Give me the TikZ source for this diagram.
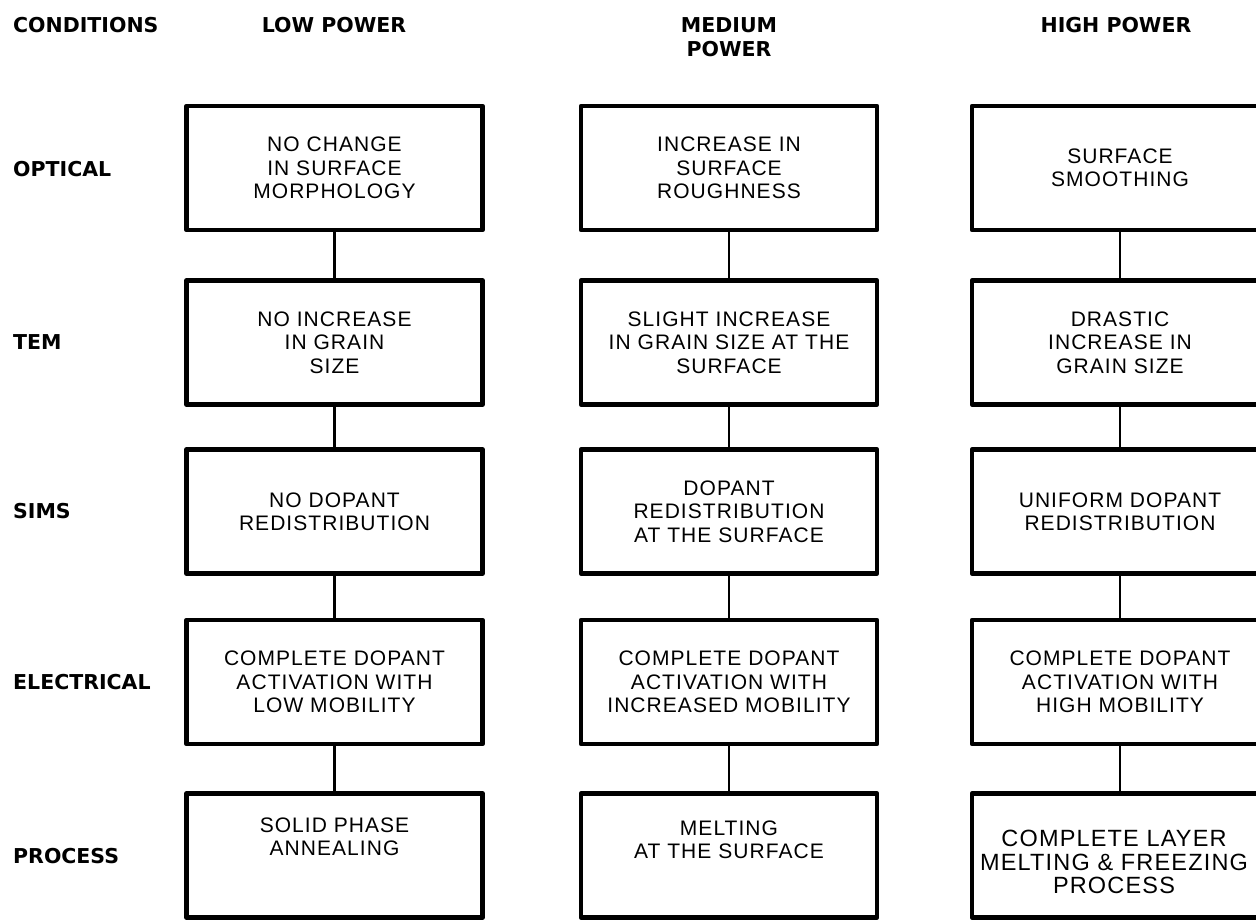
\documentclass[tikz,border=0pt]{standalone}
\usepackage{fontspec}
\setmainfont{Liberation Sans}[LetterSpace=5]
\newfontfamily\hdfont{DejaVu Sans}
\newcommand{\boxfnt}{\fontsize{21}{23.3}\selectfont}
\newcommand{\bigboxfnt}{\fontsize{23.5}{23.6}\selectfont}
\newcommand{\hdfnt}{\hdfont\bfseries\fontsize{20.5}{24}\selectfont}
\begin{document}
\begin{tikzpicture}[x=1pt,y=-1pt,
  box/.style={draw, line width=4.5pt, line join=round, minimum width=296pt, minimum height=124pt, inner sep=0pt, align=center, font=\boxfnt},
  txt/.style={inner sep=0pt, align=center, font=\boxfnt},
  conn/.style={line width=2.6pt},
  hd/.style={inner sep=0pt, align=center, font=\hdfnt},
  rowlab/.style={inner sep=0pt, anchor=west, font=\hdfnt}]
\useasboundingbox (0,0) rectangle (1256,919);

% headers
\node[hd, anchor=base west] (hcond) at (13,32) {CONDITIONS};
\node[hd, anchor=base] (hlow) at (334,32) {LOW POWER};
\node[hd, anchor=north] (hmed) at (729,17) {MEDIUM\\POWER};
\node[hd, anchor=base] (hhigh) at (1116,32) {HIGH POWER};

% row labels
\node[rowlab] (lopt) at (13,169) {OPTICAL};
\node[rowlab] (ltem) at (13,342) {TEM};
\node[rowlab] (lsims) at (13,511) {SIMS};
\node[rowlab] (lelec) at (13,682) {ELECTRICAL};
\node[rowlab] (lproc) at (13,856) {PROCESS};

% low power column
\node[box] (L1) at (334.5,168) {NO CHANGE\\IN SURFACE\\MORPHOLOGY};
\node[box] (L2) at (334.5,342.5) {NO INCREASE\\IN GRAIN\\SIZE};
\node[box] (L3) at (334.5,511.5) {NO DOPANT\\REDISTRIBUTION};
\node[box] (L4) at (334.5,682) {COMPLETE DOPANT\\ACTIVATION WITH\\LOW MOBILITY};
\node[box] (L5) at (334.5,855.5) {};
\node[txt] (L5t) at (334.5,837) {SOLID PHASE\\ANNEALING};

% medium power column
\node[box] (M1) at (729,168) {INCREASE IN\\SURFACE\\ROUGHNESS};
\node[box] (M2) at (729,342.5) {SLIGHT INCREASE\\IN GRAIN SIZE AT THE\\SURFACE};
\node[box] (M3) at (729,511.5) {DOPANT\\REDISTRIBUTION\\AT THE SURFACE};
\node[box] (M4) at (729,682) {COMPLETE DOPANT\\ACTIVATION WITH\\INCREASED MOBILITY};
\node[box] (M5) at (729,855.5) {};
\node[txt] (M5t) at (729,840) {MELTING\\AT THE SURFACE};

% high power column
\node[box] (R1) at (1120,168) {SURFACE\\SMOOTHING};
\node[box] (R2) at (1120,342.5) {DRASTIC\\INCREASE IN\\GRAIN SIZE};
\node[box] (R3) at (1120,511.5) {UNIFORM DOPANT\\REDISTRIBUTION};
\node[box] (R4) at (1120,682) {COMPLETE DOPANT\\ACTIVATION WITH\\HIGH MOBILITY};
\node[box] (R5) at (1120,855.5) {};
\node[txt, font=\bigboxfnt] (R5t) at (1114,862) {COMPLETE LAYER\\MELTING \& FREEZING\\PROCESS};

% connectors
\foreach \c in {L,M,R}{
  \draw[conn] (\c1) -- (\c2);
  \draw[conn] (\c2) -- (\c3);
  \draw[conn] (\c3) -- (\c4);
  \draw[conn] (\c4) -- (\c5);
}
\end{tikzpicture}
\end{document}
